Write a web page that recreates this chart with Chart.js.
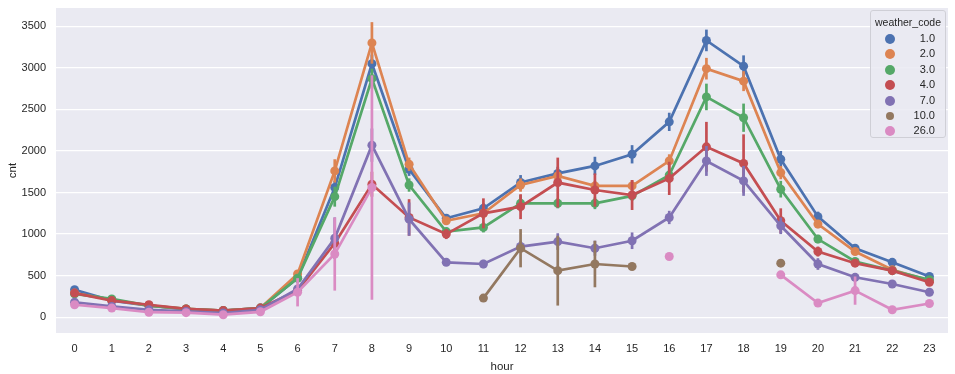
<!DOCTYPE html>
<html>
<head>
<meta charset="utf-8">
<script src="https://cdn.jsdelivr.net/npm/chart.js"></script>
<style>
  body { margin: 0; background: #ffffff; font-family: "Liberation Sans", Arial, sans-serif; }
  #wrap { position: relative; width: 955px; height: 374px; }
  #legend { position: absolute; left: 870px; top: 10px; width: 76px; height: 128px; box-sizing: border-box;
    border: 1px solid #cfcfd6; border-radius: 3px; background: rgba(234,234,242,0.85); color: #262626; font-size: 11px; }
  #legend .title { text-align: center; margin-top: 5px; height: 15px; font-size: 10.5px; }
  #legend .row { position: relative; height: 15.4px; }
  #legend .dot { position: absolute; left: 14px; top: 3px; width: 10px; height: 10px; border-radius: 50%; }
  #legend .lbl { position: absolute; right: 10px; top: 1px; }
</style>
</head>
<body>
<div id="wrap">
  <canvas id="chart" width="955" height="374"></canvas>
  <div id="legend"></div>
</div>
<script>
// hours on the x axis
const hours = ["0","1","2","3","4","5","6","7","8","9","10","11","12","13","14","15","16","17","18","19","20","21","22","23"];
const weatherCodes = ["1.0", "2.0", "3.0", "4.0", "7.0", "10.0", "26.0"];
const yTicks = [0, 500, 1000, 1500, 2000, 2500, 3000, 3500];

// mean cnt per hour for each weather_code
const code1 = [330, 200, 140, 95, 80, 110, 470, 1560, 3050, 1780, 1190, 1310, 1620, 1730, 1820, 1960, 2350, 3330, 3020, 1900, 1210, 830, 660, 490];
const code2 = [290, 210, 140, 100, 80, 110, 520, 1760, 3300, 1840, 1160, 1250, 1590, 1700, 1580, 1580, 1880, 2990, 2840, 1740, 1120, 790, 570, 440];
const code3 = [280, 220, 140, 100, 80, 110, 470, 1450, 2870, 1590, 1030, 1080, 1370, 1370, 1370, 1460, 1710, 2650, 2400, 1540, 940, 670, 560, 450];
const code4 = [290, 200, 150, 100, 80, 110, 320, 890, 1600, 1200, 1000, 1250, 1330, 1620, 1530, 1470, 1670, 2050, 1850, 1160, 790, 650, 560, 420];
const code7 = [180, 130, 90, 70, 50, 90, 340, 950, 2070, 1180, 660, 640, 850, 910, 830, 920, 1200, 1880, 1640, 1100, 640, 480, 400, 300];
const code10 = [null, null, null, null, null, null, null, null, null, null, null, 230, 830, 560, 640, 610, null, null, null, 650, null, null, null, null];
const code26 = [150, 110, 60, 55, 30, 65, 300, 760, 1560, null, null, null, null, null, null, null, 730, null, null, 510, 170, 320, 90, 165];

// half-width of the confidence bars
const err1 = [30, 15, 12, 8, 8, 10, 30, 80, 110, 80, 40, 60, 90, 80, 110, 110, 110, 130, 130, 100, 60, 40, 30, 25];
const err2 = [30, 15, 12, 8, 8, 10, 40, 140, 250, 80, 40, 70, 80, 90, 60, 70, 80, 130, 120, 80, 50, 40, 30, 25];
const err3 = [30, 15, 12, 8, 8, 10, 50, 120, 120, 80, 40, 60, 100, 60, 70, 60, 90, 160, 170, 100, 50, 40, 30, 25];
const err4 = [30, 20, 15, 10, 8, 10, 40, 100, 150, 220, 60, 180, 150, 300, 200, 180, 200, 300, 350, 150, 60, 40, 30, 25];
const err7 = [30, 20, 15, 10, 8, 10, 40, 250, 200, 200, 40, 50, 70, 100, 90, 100, 80, 180, 180, 100, 70, 40, 30, 25];
const err10 = [0, 0, 0, 0, 0, 0, 0, 0, 0, 0, 0, 0, 230, 420, 280, 0, 0, 0, 0, 0, 0, 0, 0, 0];
const err26 = [20, 40, 15, 15, 30, 15, 170, 440, 1350, 0, 0, 0, 0, 0, 0, 0, 0, 0, 0, 0, 30, 170, 20, 40];

const colors = ["#4c72b0", "#dd8452", "#55a868", "#c44e52", "#8172b3", "#937860", "#da8bc3"];
const series = [code1, code2, code3, code4, code7, code10, code26];
const errors = [err1, err2, err3, err4, err7, err10, err26];

// legend
const legend = document.getElementById("legend");
legend.innerHTML = '<div class="title">weather_code</div>' + weatherCodes.map((c, i) =>
  `<div class="row"><span class="dot" style="background:${colors[i]};${i === 5 ? 'width:8px;height:8px;left:15px;top:4px;' : ''}"></span><span class="lbl">${c}</span></div>`
).join("");

// draws the vertical confidence bars for each series
const errorBars = {
  id: "errorBars",
  afterDatasetDraw(chart, args) {
    const i = args.index;
    const err = errors[i];
    const vals = series[i];
    const y = chart.scales.y;
    const ctx = chart.ctx;
    const area = chart.chartArea;
    ctx.save();
    ctx.beginPath();
    ctx.rect(area.left, area.top, area.right - area.left, area.bottom - area.top);
    ctx.clip();
    ctx.strokeStyle = colors[i];
    ctx.lineWidth = 2.7;
    args.meta.data.forEach((pt, k) => {
      if (vals[k] == null || !err[k]) return;
      ctx.beginPath();
      ctx.moveTo(pt.x, y.getPixelForValue(vals[k] - err[k]));
      ctx.lineTo(pt.x, y.getPixelForValue(vals[k] + err[k]));
      ctx.stroke();
    });
    ctx.restore();
  }
};

const bgPlugin = {
  id: "bg",
  beforeDraw(chart) {
    const a = chart.chartArea;
    chart.ctx.save();
    chart.ctx.fillStyle = "#eaeaf2";
    chart.ctx.fillRect(a.left, a.top, a.right - a.left, a.bottom - a.top);
    chart.ctx.restore();
  }
};

const tickFont = { family: "'Liberation Sans', Arial, sans-serif", size: 11 };

new Chart(document.getElementById("chart"), {
  type: "line",
  data: {
    labels: hours,
    datasets: series.map((d, i) => ({
      label: weatherCodes[i],
      data: d,
      borderColor: colors[i],
      backgroundColor: colors[i],
      borderWidth: 2.7,
      pointRadius: 4.5,
      pointHoverRadius: 4.5,
      pointBorderWidth: 0,
      spanGaps: false,
      tension: 0,
      order: 7 - i
    }))
  },
  options: {
    responsive: false,
    animation: false,
    events: [],
    layout: { padding: { top: 8, right: 7, left: 0, bottom: 0 } },
    plugins: { legend: { display: false }, tooltip: { enabled: false } },
    scales: {
      x: {
        offset: true,
        grid: { display: false, drawTicks: false },
        border: { display: false },
        ticks: { color: "#262626", font: tickFont, padding: 9, maxRotation: 0, autoSkip: false },
        title: { display: true, text: "hour", color: "#262626", font: { family: tickFont.family, size: 11.5 }, padding: { top: 2, bottom: 0 } },
        afterFit(s) { s.height = 41; }
      },
      y: {
        min: -190,
        max: 3720,
        grid: { color: "#ffffff", lineWidth: 1.2, drawTicks: false },
        border: { display: false },
        ticks: { color: "#262626", font: tickFont, padding: 10, stepSize: 500, callback: v => String(v) },
        afterBuildTicks(s) { s.ticks = yTicks.map(v => ({ value: v })); },
        title: { display: true, text: "cnt", color: "#262626", font: { family: tickFont.family, size: 11.5 }, padding: { top: 6, bottom: 2 } },
        afterFit(s) { s.width = 56; s.paddingTop = 0; s.paddingBottom = 0; }
      }
    }
  },
  plugins: [bgPlugin, errorBars]
});
</script>
</body>
</html>
